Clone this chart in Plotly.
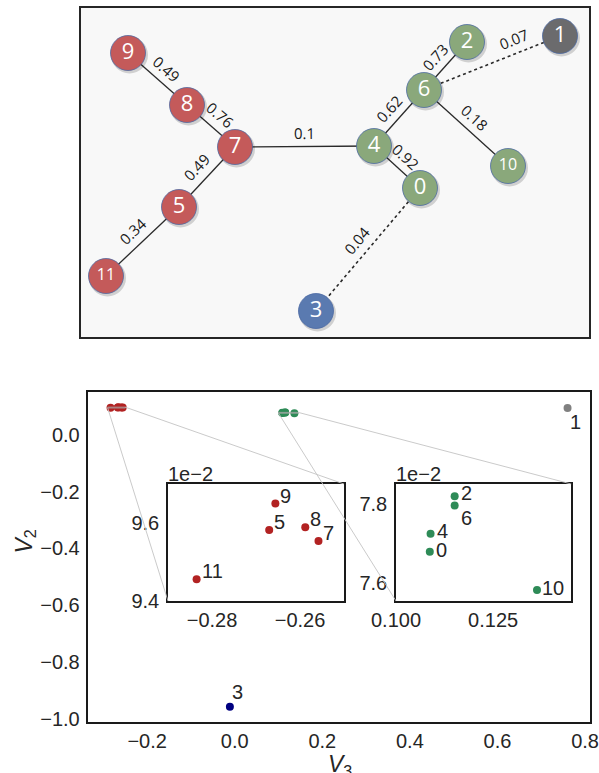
import math
import plotly.graph_objects as go

W, H = 599, 773

# ---------------- network (top panel) ----------------
node_ids = [0, 1, 2, 3, 4, 5, 6, 7, 8, 9, 10, 11]
node_x = [340, 480, 387, 236, 294, 99, 344, 155, 107, 48, 428, 26]
node_y = [150, 302, 296, 27, 192, 131, 248, 191, 233, 285, 172, 62]
node_group = ["green", "gray", "green", "blue", "green", "red",
              "green", "red", "red", "red", "green", "red"]

edge_src = [9, 8, 7, 5, 7, 4, 4, 6, 6, 6, 0]
edge_dst = [8, 7, 5, 11, 4, 0, 6, 2, 10, 1, 3]
edge_weight = [0.49, 0.76, 0.49, 0.34, 0.1, 0.92, 0.62, 0.73, 0.18, 0.07, 0.04]
edge_dotted = [False, False, False, False, False, False, False, False, False, True, True]

# ---------------- embedding (bottom panel) ----------------
pt_ids = [0, 1, 2, 3, 4, 5, 6, 7, 8, 9, 10, 11]
v3 = [0.1087, 0.760, 0.1151, -0.011, 0.1089, -0.2670, 0.1151, -0.2558,
      -0.2588, -0.2656, 0.1363, -0.2835]
v2 = [0.07679, 0.0943, 0.07821, -0.957, 0.07725, 0.09582, 0.07797, 0.09554,
      0.09589, 0.0965, 0.07581, 0.09456]

main_xticks = [-0.2, 0.0, 0.2, 0.4, 0.6, 0.8]
main_xticktext = ["\u22120.2", "0.0", "0.2", "0.4", "0.6", "0.8"]
main_yticks = [0.0, -0.2, -0.4, -0.6, -0.8, -1.0]
main_yticktext = ["0.0", "\u22120.2", "\u22120.4", "\u22120.6", "\u22120.8", "\u22121.0"]

red_xrange = [-0.29, -0.25]
red_yrange = [0.094, 0.097]
red_xticks = [-0.28, -0.26]
red_xticktext = ["\u22120.28", "\u22120.26"]
red_yticks = [0.094, 0.096]
red_yticktext = ["9.4", "9.6"]

green_xrange = [0.100, 0.1451]
green_yrange = [0.07553, 0.07852]
green_xticks = [0.100, 0.125]
green_xticktext = ["0.100", "0.125"]
green_yticks = [0.076, 0.078]
green_yticktext = ["7.6", "7.8"]
offset_text = "1e\u22122"

# ---------------- styles ----------------
net_fill = {"red": "#c45a5a", "green": "#8aa87b", "gray": "#6b6b6d", "blue": "#5a7ab0"}
pt_fill = {"red": "#b22222", "green": "#2e8b57", "gray": "#808080", "blue": "#000080"}
# point label placement: (xanchor, yanchor, xshift, yshift)
label_place = {0: ("left", "middle", 4, 2), 1: ("left", "top", 0, -1),
               2: ("left", "middle", 4, 3), 3: ("left", "bottom", 0, 2),
               4: ("left", "middle", 4, 3), 5: ("left", "bottom", 3, -5),
               6: ("left", "top", 4, 1), 7: ("left", "bottom", 3, -5),
               8: ("left", "bottom", 3, -5), 9: ("left", "bottom", 3, -5),
               10: ("left", "middle", 3, 2), 11: ("left", "bottom", 3, -5)}
edge_label_t = {9: 0.7}  # edge index -> fraction along edge
FONT = "Liberation Sans"
TXT = "#262626"


def dom_x(p0, p1):
    return [p0 / W, p1 / W]


def dom_y(top, bottom):
    return [1 - bottom / H, 1 - top / H]


top_dx, top_dy = dom_x(80, 590), dom_y(7, 338)
main_dx, main_dy = dom_x(87.7, 590.4), dom_y(392.3, 721.7)
red_dx, red_dy = dom_x(168, 344), dom_y(484, 601)
green_dx, green_dy = dom_x(396, 571.2), dom_y(484, 601)


def padded(vals, frac=0.05):
    lo, hi = min(vals), max(vals)
    s = hi - lo
    return [lo - frac * s, hi + frac * s]


main_xrange = padded(v3)
main_yrange = padded(v2)

fig = go.Figure()

# ---- network edges ----
for i, (a, b) in enumerate(zip(edge_src, edge_dst)):
    fig.add_trace(go.Scatter(
        x=[node_x[a], node_x[b]], y=[node_y[a], node_y[b]], mode="lines",
        line=dict(color="#2a2a2a", width=1.6 if edge_dotted[i] else 1.3,
                  dash="dot" if edge_dotted[i] else "solid"),
        xaxis="x", yaxis="y", hoverinfo="skip", showlegend=False))

# ---- node shadows ----
fig.add_trace(go.Scatter(
    x=[x + 1.5 for x in node_x], y=[y - 2 for y in node_y], mode="markers",
    marker=dict(size=37, color="rgba(0,0,0,0.16)", line=dict(width=0)),
    xaxis="x", yaxis="y", hoverinfo="skip", showlegend=False))

# ---- nodes ----
fig.add_trace(go.Scatter(
    x=node_x, y=node_y, mode="markers+text",
    marker=dict(size=35, color=[net_fill[g] for g in node_group],
                line=dict(color="rgba(70,100,160,0.75)", width=1)),
    text=[str(n) for n in node_ids], textposition="middle center",
    textfont=dict(family="Open Sans", color="white",
                  size=[16 if n >= 10 else 22 for n in node_ids]),
    xaxis="x", yaxis="y", hoverinfo="skip", showlegend=False))

annotations = []
# ---- edge weight labels ----
for i, (a, b) in enumerate(zip(edge_src, edge_dst)):
    ax_, ay_ = node_x[a], node_y[a]
    dx, dy = node_x[b] - ax_, node_y[b] - ay_
    L = math.hypot(dx, dy)
    ang = -math.degrees(math.atan2(dy, dx))
    if ang > 90:
        ang -= 180
    if ang < -90:
        ang += 180
    nx, ny = -dy / L, dx / L
    if ny < 0:
        nx, ny = -nx, -ny
    t = edge_label_t.get(i, 0.5)
    off = 14
    annotations.append(dict(
        x=ax_ + t * dx + off * nx, y=ay_ + t * dy + off * ny, xref="x", yref="y",
        text=f"{edge_weight[i]:g}", showarrow=False, textangle=ang,
        font=dict(family="Open Sans", size=15, color="#1a1a1a")))

# ---- main scatter ----
fig.add_trace(go.Scatter(
    x=v3, y=v2, mode="markers",
    marker=dict(size=8, color=[pt_fill[node_group[n]] for n in pt_ids]),
    xaxis="x2", yaxis="y2", hoverinfo="skip", showlegend=False, cliponaxis=False))


def point_label(n, xref, yref):
    xa, ya, xs, ys = label_place[n]
    return dict(x=v3[n], y=v2[n], xref=xref, yref=yref, text=str(n), showarrow=False,
                xanchor=xa, yanchor=ya, xshift=xs, yshift=ys,
                font=dict(family=FONT, size=20, color=TXT))


for n in pt_ids:
    if node_group[n] in ("gray", "blue"):
        annotations.append(point_label(n, "x2", "y2"))

# ---- insets ----
for grp, xa, ya in (("red", "x3", "y3"), ("green", "x4", "y4")):
    sel = [n for n in pt_ids if node_group[n] == grp]
    fig.add_trace(go.Scatter(
        x=[v3[n] for n in sel], y=[v2[n] for n in sel], mode="markers",
        marker=dict(size=8, color=pt_fill[grp]),
        xaxis=xa, yaxis=ya, hoverinfo="skip", showlegend=False, cliponaxis=False))
    for n in sel:
        annotations.append(point_label(n, xa, ya))


def to_paper(x, y):
    px = main_dx[0] + (x - main_xrange[0]) / (main_xrange[1] - main_xrange[0]) * (main_dx[1] - main_dx[0])
    py = main_dy[0] + (y - main_yrange[0]) / (main_yrange[1] - main_yrange[0]) * (main_dy[1] - main_dy[0])
    return px, py


shapes = []
# top panel background frame
shapes.append(dict(type="rect", xref="paper", yref="paper",
                   x0=top_dx[0], x1=top_dx[1], y0=top_dy[0], y1=top_dy[1],
                   fillcolor="#f8f8f8", line=dict(color="#262626", width=2), layer="below"))

for xr, yr, dx_, dy_ in ((red_xrange, red_yrange, red_dx, red_dy),
                         (green_xrange, green_yrange, green_dx, green_dy)):
    shapes.append(dict(type="rect", xref="x2", yref="y2", x0=xr[0], x1=xr[1],
                       y0=yr[0], y1=yr[1], line=dict(color="#aaaaaa", width=0.8)))
    p0 = to_paper(xr[0], yr[0])
    p1 = to_paper(xr[1], yr[1])
    shapes.append(dict(type="line", xref="paper", yref="paper", x0=p0[0], y0=p0[1],
                       x1=dx_[0], y1=dy_[0], line=dict(color="#c4c4c4", width=0.9)))
    shapes.append(dict(type="line", xref="paper", yref="paper", x0=p1[0], y0=p1[1],
                       x1=dx_[1], y1=dy_[1], line=dict(color="#c4c4c4", width=0.9)))
    annotations.append(dict(x=dx_[0], y=dy_[1], xref="paper", yref="paper",
                            xanchor="left", yanchor="bottom", text=offset_text,
                            showarrow=False, yshift=-3, xshift=-2,
                            font=dict(family=FONT, size=20, color=TXT)))

annotations.append(dict(x=8 / W, y=1 - 556 / H, xref="paper", yref="paper",
                        text="<i>V</i><sub>2</sub>", textangle=-90, showarrow=False,
                        font=dict(family=FONT, size=23, color=TXT)))
annotations.append(dict(x=340 / W, y=1 - 749 / H, xref="paper", yref="paper",
                        yanchor="top",
                        text="<i>V</i><sub>3</sub>", showarrow=False,
                        font=dict(family=FONT, size=23, color=TXT)))

ax_common = dict(showgrid=False, zeroline=False, ticks="", showline=True, mirror=True,
                 automargin=False, linecolor="#1a1a1a",
                 tickfont=dict(family=FONT, size=20, color=TXT))

fig.update_layout(
    template="none",
    width=W, height=H, margin=dict(l=0, r=0, t=0, b=0, pad=0), autosize=False,
    paper_bgcolor="white", plot_bgcolor="rgba(0,0,0,0)",
    showlegend=False,
    xaxis=dict(domain=top_dx, range=[0, 510], visible=False, automargin=False),
    yaxis=dict(domain=top_dy, range=[0, 331], visible=False, anchor="x", automargin=False),
    xaxis2=dict(domain=main_dx, range=main_xrange, anchor="y2", tickvals=main_xticks,
                ticktext=main_xticktext, linewidth=2, ticklabelstandoff=0, **ax_common),
    yaxis2=dict(domain=main_dy, range=main_yrange, anchor="x2", tickvals=main_yticks,
                ticktext=main_yticktext, linewidth=2, ticklabelstandoff=2, **ax_common),
    xaxis3=dict(domain=red_dx, range=red_xrange, anchor="y3", tickvals=red_xticks,
                ticktext=red_xticktext, linewidth=1.5, ticklabelstandoff=0, **ax_common),
    yaxis3=dict(domain=red_dy, range=red_yrange, anchor="x3", tickvals=red_yticks,
                ticktext=red_yticktext, linewidth=1.5, ticklabelstandoff=3, **ax_common),
    xaxis4=dict(domain=green_dx, range=green_xrange, anchor="y4", tickvals=green_xticks,
                ticktext=green_xticktext, linewidth=1.5, ticklabelstandoff=0, **ax_common),
    yaxis4=dict(domain=green_dy, range=green_yrange, anchor="x4", tickvals=green_yticks,
                ticktext=green_yticktext, linewidth=1.5, ticklabelstandoff=3, **ax_common),
    shapes=shapes, annotations=annotations,
)

fig.write_html("out.html")
